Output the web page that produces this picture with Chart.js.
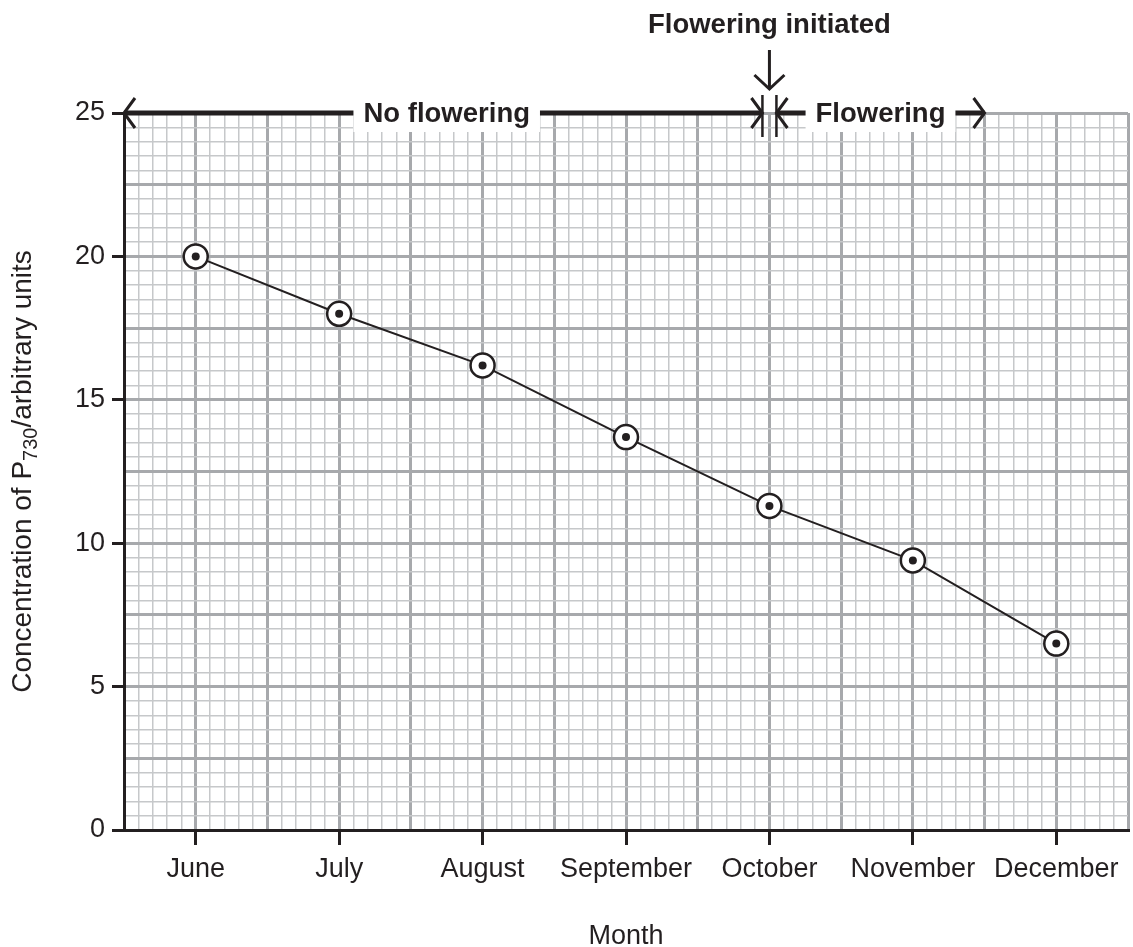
<!DOCTYPE html>
<html>
<head>
<meta charset="utf-8">
<script src="https://cdn.jsdelivr.net/npm/chart.js@4.4.1/dist/chart.umd.min.js"></script>
<style>
  html, body { margin: 0; padding: 0; background: #fff; overflow: hidden; }
  #wrap { width: 1133px; height: 947px; position: relative; }
  canvas { display: block; }
</style>
</head>
<body>
<div id="wrap"><canvas id="chart"></canvas></div>
<script>
const months = ['June', 'July', 'August', 'September', 'October', 'November', 'December']
const p730 = [20, 18, 16.2, 13.7, 11.3, 9.4, 6.5]
const yTickLabels = [0, 5, 10, 15, 20, 25]
const floweringMonth = 'October'
const floweringEnd = 5.5

const ink = '#231f20'
const majorGrid = '#a7a9ac'
const minorGrid = '#c6c8ca'
const font = '"Liberation Sans", Arial, Helvetica, sans-serif'

// major lines every half month / 2.5 units, minor every tenth of that
const isMajor = (v, step) => Math.abs(Math.round(v / step) - v / step) < 1e-6

const line = (ctx, x1, y1, x2, y2) => {
  ctx.beginPath()
  ctx.moveTo(x1, y1)
  ctx.lineTo(x2, y2)
  ctx.stroke()
}

const chevron = (ctx, x, y, dir, len = 11, spread = 15) => {
  // dir: 1 points right, -1 left, 'down'
  ctx.beginPath()
  if (dir === 'down') {
    ctx.moveTo(x - spread, y - len)
    ctx.lineTo(x, y)
    ctx.lineTo(x + spread, y - len)
  } else {
    ctx.moveTo(x - dir * len, y - spread)
    ctx.lineTo(x, y)
    ctx.lineTo(x - dir * len, y + spread)
  }
  ctx.stroke()
}

const boxedLabel = (ctx, text, cx, cy) => {
  ctx.font = `bold 27.5px ${font}`
  const w = ctx.measureText(text).width
  ctx.fillStyle = '#fff'
  ctx.fillRect(cx - w / 2 - 10, cy - 16, w + 20, 35)
  ctx.fillStyle = ink
  ctx.textAlign = 'center'
  ctx.textBaseline = 'middle'
  ctx.fillText(text, cx, cy + 1)
}

const annotations = {
  id: 'annotations',
  afterDraw(chart) {
    const { ctx, scales: { x, y } } = chart
    const top = y.getPixelForValue(y.max)
    const left = x.getPixelForValue(x.min)
    const split = x.getPixelForValue(months.indexOf(floweringMonth))
    const a = split - 7
    const b = split + 7
    const end = x.getPixelForValue(floweringEnd)

    ctx.save()
    ctx.strokeStyle = ink
    ctx.lineCap = 'butt'
    ctx.lineWidth = 5
    line(ctx, left, top, a, top)
    line(ctx, b, top, end, top)

    ctx.lineWidth = 3
    chevron(ctx, left, top, -1)
    chevron(ctx, a, top, 1)
    chevron(ctx, b, top, -1)
    chevron(ctx, end, top, 1)
    ctx.lineWidth = 2.5
    line(ctx, a, top - 18, a, top + 24)
    line(ctx, b, top - 18, b, top + 24)

    // flowering initiated arrow
    ctx.lineWidth = 3
    line(ctx, split, 50, split, 89)
    chevron(ctx, split, 89, 'down', 14, 15)

    boxedLabel(ctx, 'No flowering', (left + split) / 2, top)
    boxedLabel(ctx, 'Flowering', (b + end) / 2, top)

    ctx.font = `bold 27.5px ${font}`
    ctx.fillStyle = ink
    ctx.textAlign = 'center'
    ctx.textBaseline = 'middle'
    ctx.fillText('Flowering initiated', split, 25)

    // y title with subscript
    const parts = [
      { t: 'Concentration of P', f: `28px ${font}`, dy: 0 },
      { t: '730', f: `20px ${font}`, dy: 8 },
      { t: '/arbitrary units', f: `28px ${font}`, dy: 0 }
    ]
    let total = 0
    parts.forEach(p => { ctx.font = p.f; p.w = ctx.measureText(p.t).width; total += p.w })
    ctx.translate(23, (y.top + y.bottom) / 2)
    ctx.rotate(-Math.PI / 2)
    ctx.textAlign = 'left'
    ctx.textBaseline = 'middle'
    let pos = -total / 2
    parts.forEach(p => {
      ctx.font = p.f
      ctx.fillText(p.t, pos, p.dy)
      pos += p.w
    })
    ctx.restore()
  }
}

const points = p730.map((v, i) => ({ x: i, y: v }))

new Chart(document.getElementById('chart'), {
  type: 'line',
  data: {
    labels: months,
    datasets: [
      {
        data: points,
        order: 1,
        borderColor: ink,
        borderWidth: 2,
        pointRadius: 12,
        pointBorderWidth: 2.5,
        pointBackgroundColor: '#fff',
        pointBorderColor: ink,
        tension: 0
      },
      {
        data: points,
        order: 0,
        showLine: false,
        pointRadius: 4,
        pointBorderWidth: 0,
        pointBackgroundColor: ink
      }
    ]
  },
  options: {
    responsive: true,
    maintainAspectRatio: false,
    animation: false,
    layout: { autoPadding: false, padding: { top: 113, right: 5, left: 0, bottom: 0 } },
    plugins: { legend: { display: false }, tooltip: { enabled: false } },
    scales: {
      x: {
        type: 'linear',
        min: -0.5,
        max: months.length - 0.5,
        afterFit: s => {
          s.height = 117
          s.paddingLeft = 0
          s.paddingRight = 0
        },
        border: { color: ink, width: 3 },
        grid: {
          color: c => isMajor(c.tick.value, 0.5) ? majorGrid : minorGrid,
          lineWidth: c => isMajor(c.tick.value, 0.5) ? 3 : 1.5,
          tickLength: 15,
          tickWidth: 3,
          tickColor: c => isMajor(c.tick.value, 1) && c.tick.value >= 0 && c.tick.value < months.length ? ink : 'rgba(0,0,0,0)'
        },
        ticks: {
          stepSize: 0.1,
          autoSkip: false,
          maxRotation: 0,
          minRotation: 0,
          padding: 8,
          color: ink,
          font: { family: font, size: 27 },
          callback: v => isMajor(v, 1) ? (months[Math.round(v)] || '') : ''
        },
        title: {
          display: true,
          text: 'Month',
          color: ink,
          padding: 0,
          font: { family: font, size: 27, lineHeight: 0.8 }
        }
      },
      y: {
        min: 0,
        max: 25,
        afterFit: s => { s.width = 124 },
        border: { color: ink, width: 3 },
        grid: {
          color: c => isMajor(c.tick.value, 2.5) ? majorGrid : minorGrid,
          lineWidth: c => isMajor(c.tick.value, 2.5) ? 3 : 1.5,
          tickLength: 12,
          tickWidth: 3,
          tickColor: c => yTickLabels.includes(c.tick.value) ? ink : 'rgba(0,0,0,0)'
        },
        ticks: {
          stepSize: 0.5,
          autoSkip: false,
          padding: 7,
          color: ink,
          font: { family: font, size: 27 },
          callback: v => yTickLabels.includes(v) ? String(v) : ''
        }
      }
    }
  },
  plugins: [annotations]
})
</script>
</body>
</html>
